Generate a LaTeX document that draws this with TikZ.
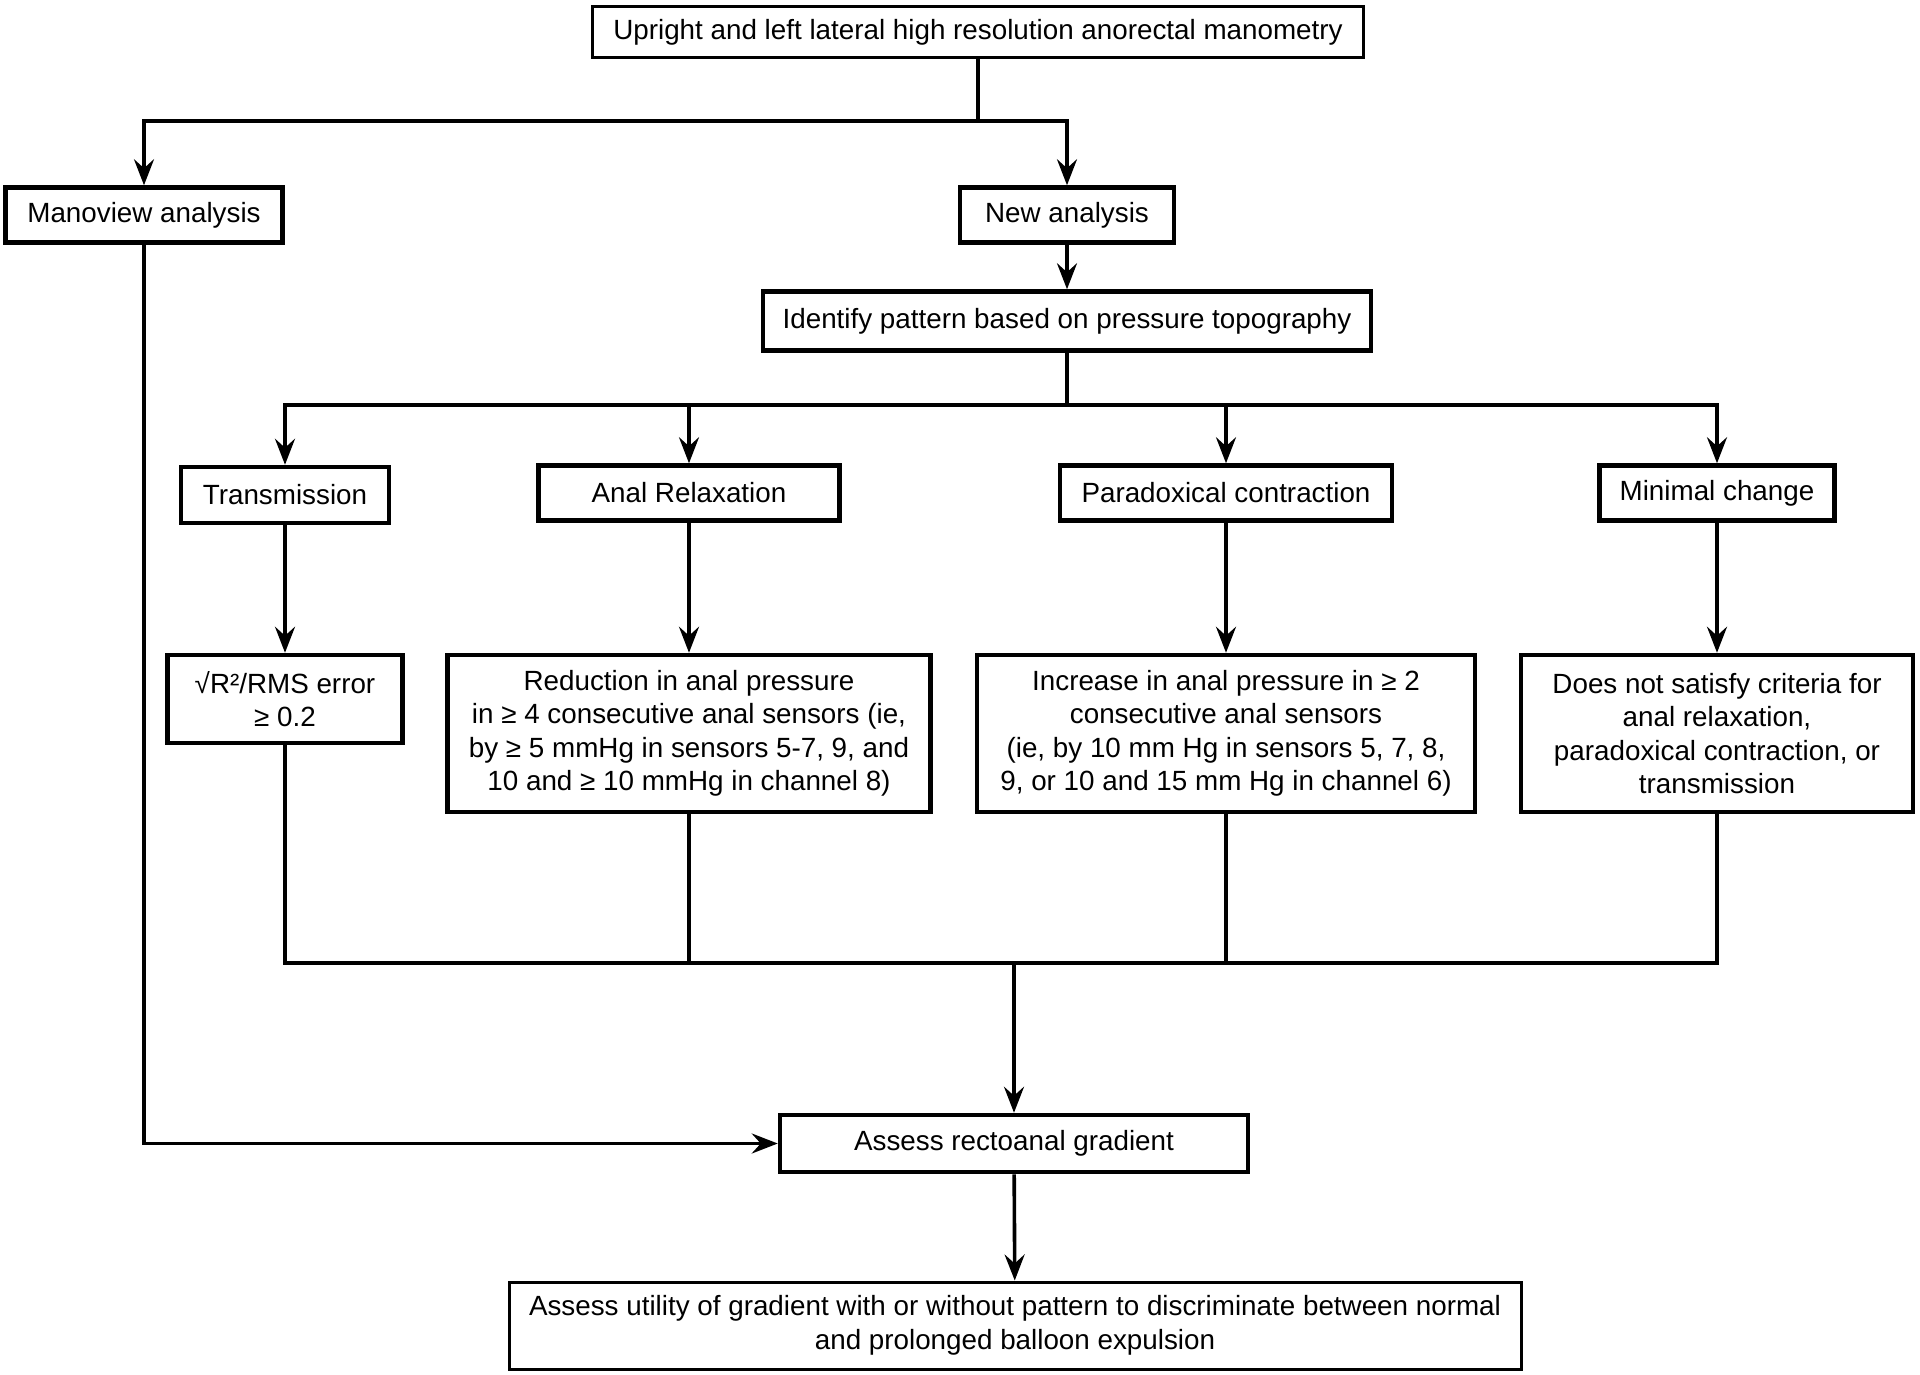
\documentclass[tikz,border=0pt]{standalone}
\usepackage{fontspec}
\setmainfont{Liberation Sans}
\usetikzlibrary{arrows.meta}
\begin{document}
\begin{tikzpicture}[x=1pt,y=-1pt,
  box/.style={draw, line width=4.5pt, inner sep=0pt, align=center, font=\fontsize{27.8}{33.5}\selectfont},
  thinbox/.style={box, line width=3pt},
  conn/.style={line width=3.6pt},
  arr/.style={conn, -{Stealth[length=26pt,width=20pt,inset=9pt]}}]
\useasboundingbox (0,0) rectangle (1920,1375);
\fill[white] (0,0) rectangle (1920,1375);

\node[thinbox, minimum width=771pt, minimum height=51pt] (top) at (978,32) {Upright and left lateral high resolution anorectal manometry};
\node[box, minimum width=277pt, minimum height=55pt] (mano) at (144,215) {Manoview analysis};
\node[box, minimum width=214pt, minimum height=55pt] (new) at (1067,215) {New analysis};
\node[box, minimum width=608pt, minimum height=59pt] (ident) at (1067,321) {Identify pattern based on pressure topography};

\node[box, minimum width=208pt, minimum height=56pt] (trans) at (285,495) {Transmission};
\node[box, minimum width=301pt, minimum height=55pt] (anal) at (689,493) {Anal Relaxation};
\node[box, minimum width=332pt, minimum height=55pt] (para) at (1226,493) {Paradoxical contraction};
\node[box, minimum width=235pt, minimum height=55pt] (minc) at (1717,493) {Minimal change};

\node[box, minimum width=235pt, minimum height=88pt] (rms) at (285,699) {√R²/RMS error\\≥ 0.2};
\node[box, minimum width=483pt, minimum height=157pt] (red) at (689,733.5) {Reduction in anal pressure\\in ≥ 4 consecutive anal sensors (ie,\\by ≥ 5 mmHg in sensors 5-7, 9, and\\10 and ≥ 10 mmHg in channel 8)};
\node[box, minimum width=498pt, minimum height=157pt] (inc) at (1226,733.5) {Increase in anal pressure in ≥ 2\\consecutive anal sensors\\(ie, by 10 mm Hg in sensors 5, 7, 8,\\9, or 10 and 15 mm Hg in channel 6)};
\node[box, minimum width=392pt, minimum height=157pt] (dn) at (1717,733.5) {Does not satisfy criteria for\\anal relaxation,\\paradoxical contraction, or\\transmission};

\node[box, minimum width=468pt, minimum height=57pt] (grad) at (1014,1143.5) {Assess rectoanal gradient};
\node[thinbox, minimum width=1012pt, minimum height=87pt] (util) at (1015,1325.5) {Assess utility of gradient with or without pattern to discriminate between normal\\and prolonged balloon expulsion};

\coordinate (b1) at (978,121);
\coordinate (b2) at (1067,405);
\coordinate (b3) at (1014,963);

\draw[conn] (top.south) -- (b1);
\draw[arr] (b1) -| (mano.north);
\draw[arr] (b1) -| (new.north);
\draw[arr] (new) -- (ident);

\draw[conn] (ident.south) -- (b2);
\draw[arr] (b2) -| (trans.north);
\draw[arr] (b2) -| (anal.north);
\draw[arr] (b2) -| (para.north);
\draw[arr] (b2) -| (minc.north);

\draw[arr] (trans) -- (rms);
\draw[arr] (anal) -- (red);
\draw[arr] (para) -- (inc);
\draw[arr] (minc) -- (dn);

\draw[conn] (rms.south) |- (b3);
\draw[conn] (red.south) |- (b3);
\draw[conn] (inc.south) |- (b3);
\draw[conn] (dn.south) |- (b3);
\draw[arr] (b3) -- (grad.north);

\draw[arr] (mano.south) |- (grad.west);
\draw[arr] (grad) -- (util);
\end{tikzpicture}
\end{document}
